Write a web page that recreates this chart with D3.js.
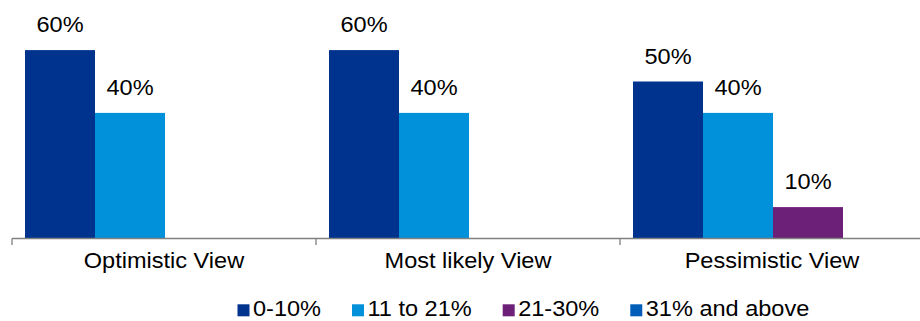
<!DOCTYPE html>
<html>
<head>
<meta charset="utf-8">
<script src="https://cdn.jsdelivr.net/npm/d3@7"></script>
<style>
  body { margin: 0; background: #fff; }
  text { font-family: "Liberation Sans", Arial, sans-serif; fill: #000; }
</style>
</head>
<body>
<div id="chart"></div>
<script>
// Data
const categories = ["Optimistic View", "Most likely View", "Pessimistic View"];
const seriesNames = ["0-10%", "11 to 21%", "21-30%", "31% and above"];
const seriesColors = ["#00338D", "#0091DA", "#6D2077", "#005EB8"];
// values per series, one entry per category
const range0to10 = [60, 60, 50];
const range11to21 = [40, 40, 40];
const range21to30 = [0, 0, 10];
const range31up = [0, 0, 0];
const seriesValues = [range0to10, range11to21, range21to30, range31up];

const width = 920;
const height = 321;
const stretch = 1.07; // text in the picture is a bit wide

const svg = d3.select("#chart").append("svg")
  .attr("width", width)
  .attr("height", height);

// Scales
const x0 = d3.scaleBand()
  .domain(categories)
  .range([12, 924]);

const x1 = d3.scaleBand()
  .domain(seriesNames)
  .range([13, 293]);

const y = d3.scaleLinear()
  .domain([0, 70])
  .range([238.5, 18.7]);

function wideText(parent, x, yPos, str, anchor) {
  return parent.append("text")
    .attr("transform", "translate(" + x + "," + yPos + ") scale(" + stretch + ",1)")
    .attr("text-anchor", anchor)
    .style("font-size", "22px")
    .text(str);
}

// Bars
const rows = [];
seriesNames.forEach(function (s, i) {
  categories.forEach(function (c, j) {
    rows.push({ series: s, category: c, value: seriesValues[i][j], color: seriesColors[i] });
  });
});
const shown = rows.filter(function (d) { return d.value > 0; });

svg.append("g")
  .selectAll("rect")
  .data(shown)
  .enter()
  .append("rect")
  .attr("x", function (d) { return x0(d.category) + x1(d.series); })
  .attr("y", function (d) { return y(d.value); })
  .attr("width", x1.bandwidth())
  .attr("height", function (d) { return y(0) - y(d.value); })
  .attr("fill", function (d) { return d.color; });

// Value labels
const labels = svg.append("g");
shown.forEach(function (d) {
  wideText(labels, x0(d.category) + x1(d.series) + x1.bandwidth() / 2, y(d.value) - 18, d.value + "%", "middle");
});

// Axis
const axis = svg.append("g")
  .attr("transform", "translate(0," + y(0) + ")")
  .call(d3.axisBottom(x0).tickSize(0).tickFormat(""));
axis.select(".domain").attr("stroke", "#808080").attr("stroke-width", 1.3)
  .attr("d", "M12,0H" + width);
axis.selectAll(".tick").remove();

const tickPos = categories.map(function (c) { return x0(c); });
tickPos.push(x0.range()[1]);
axis.selectAll(".sep")
  .data(tickPos)
  .enter()
  .append("line")
  .attr("x1", function (d) { return d; })
  .attr("x2", function (d) { return d; })
  .attr("y1", 0)
  .attr("y2", 6.5)
  .attr("stroke", "#808080")
  .attr("stroke-width", 1.3);

// Category labels
categories.forEach(function (c) {
  wideText(svg, x0(c) + x0.bandwidth() / 2, 268.3, c, "middle");
});

// Legend
const legend = svg.append("g").attr("class", "legend");
let lx = 237.5;
seriesNames.forEach(function (s, i) {
  legend.append("rect")
    .attr("x", lx)
    .attr("y", 304.3)
    .attr("width", 12)
    .attr("height", 12)
    .attr("fill", seriesColors[i]);
  const t = wideText(legend, lx + 15.5, 316.3, s, "start");
  lx += 15.5 + t.node().getComputedTextLength() * stretch + 31;
});
</script>
</body>
</html>
